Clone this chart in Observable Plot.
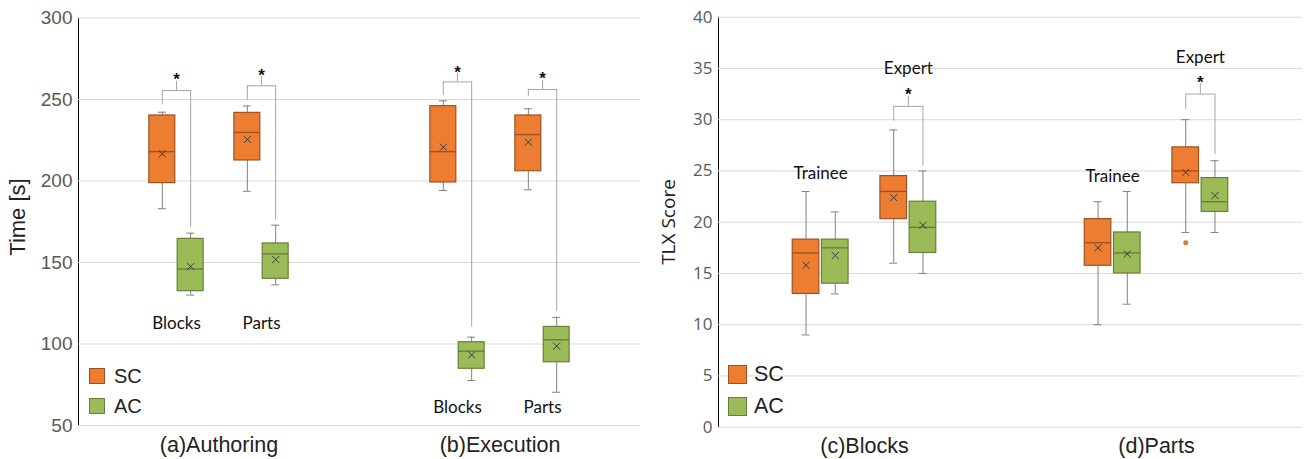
<!DOCTYPE html>
<html><head><meta charset="utf-8">
<script src="https://cdn.jsdelivr.net/npm/d3@7"></script>
<script src="https://cdn.jsdelivr.net/npm/@observablehq/plot@0.6"></script>
<style>
body{margin:0;background:#fff;}
#wrap{position:relative;width:1304px;height:459px;display:flex;overflow:hidden;}
.panel{position:relative;}
.panel svg{display:block;}
#left [aria-label^="y-axis"] text{font:19px "Liberation Sans",Arial,sans-serif;fill:#595959;}
#right [aria-label^="y-axis"] text{font:17px "Open Sans",sans-serif;fill:#595959;}
#left [aria-label^="fx-axis"] text{font:21.5px "Liberation Sans",Arial,sans-serif;fill:#222;}
#right [aria-label^="fx-axis"] text{font:21.5px "Liberation Sans",Arial,sans-serif;fill:#222;}
.panel .domain{stroke:#d9d9d9;}
.panel [aria-label="y-axis line"]{stroke:#d9d9d9;}
.ytitle{position:absolute;transform:translate(-50%,-50%) rotate(-90deg);white-space:nowrap;color:#222;}
.legend{position:absolute;color:#222;font-family:"Liberation Sans",Arial,sans-serif;}
.legend .row{display:flex;align-items:center;}
.legend .sw{box-sizing:border-box;border:1px solid #7a5a3a;}
</style></head><body>
<div id="wrap">
  <div id="left" class="panel"></div>
  <div id="right" class="panel"></div>
</div>
<script>
// ---------- Data: left chart (Time) ----------
const timeCategories = ["(a)Authoring", "(b)Execution"];
const timeGroups = ["Blocks", "Parts"];
const seriesNames = ["SC", "AC"];
const timeTicks = [50, 100, 150, 200, 250, 300];
// order: Authoring-Blocks-SC, -AC, Authoring-Parts-SC, -AC, Execution-Blocks-SC, -AC, Execution-Parts-SC, -AC
const timeMin    = [183.0, 130.0, 193.7, 136.3, 194.2, 77.6, 194.6, 70.4];
const timeQ1     = [198.7, 132.4, 212.6, 140.0, 199.1, 84.8, 206.0, 88.8];
const timeMedian = [218.0, 146.0, 229.8, 155.3, 218.0, 95.6, 228.5, 102.6];
const timeQ3     = [240.2, 164.5, 241.8, 161.7, 245.9, 101.1, 240.2, 110.5];
const timeMax    = [242.2, 168.0, 246.0, 172.9, 249.2, 104.2, 244.3, 116.3];
const timeMean   = [216.7, 147.5, 225.5, 151.8, 220.7, 93.3, 223.8, 98.7];
// significance brackets (per category-group): Authoring-Blocks, Authoring-Parts, Execution-Blocks, Execution-Parts
const timeBracketY   = [255.5, 258.4, 260.8, 256.1];
const timeBracketSC  = [246.7, 249.4, 252.5, 251.8];
const timeBracketAC  = [171.7, 176.0, 110.3, 120.0];
const timeBracketTop = [261.2, 264.1, 265.8, 261.7];
// group label heights per category
const timeGroupLabelY = [112.3, 61.3];

// ---------- Data: right chart (TLX) ----------
const tlxCategories = ["(c)Blocks", "(d)Parts"];
const tlxGroups = ["Trainee", "Expert"];
const tlxTicks = [0, 5, 10, 15, 20, 25, 30, 35, 40];
// order: Blocks-Trainee-SC, -AC, Blocks-Expert-SC, -AC, Parts-Trainee-SC, -AC, Parts-Expert-SC, -AC
const tlxMin    = [9, 13, 16, 15, 10, 12, 19, 19];
const tlxQ1     = [13, 14, 20.3, 17, 15.75, 15, 23.8, 21];
const tlxMedian = [17, 17.5, 23, 19.5, 18, 17, 25, 22];
const tlxQ3     = [18.3, 18.3, 24.5, 22, 20.3, 19, 27.3, 24.3];
const tlxMax    = [23, 21, 29, 25, 22, 23, 30, 26];
const tlxMean   = [15.8, 16.75, 22.4, 19.7, 17.5, 16.9, 24.85, 22.6];
const tlxOutlierCat = ["(d)Parts"];
const tlxOutlierGroup = ["Expert"];
const tlxOutlierSeries = ["SC"];
const tlxOutlierValue = [18];
// brackets (Expert only): Blocks, Parts
const tlxBracketCat = ["(c)Blocks", "(d)Parts"];
const tlxBracketY   = [31.3, 32.5];
const tlxBracketSC  = [29.85, 31.0];
const tlxBracketAC  = [25.5, 26.6];
const tlxBracketTop = [32.3, 33.5];
// group labels: Blocks-Trainee, Blocks-Expert, Parts-Trainee, Parts-Expert
const tlxGroupLabelY = [24.7, 35.0, 24.45, 36.1];

// ---------- Styles ----------
const fills   = {SC: "#ED7D31", AC: "#9BBB59"};
const strokes = {SC: "#9E5220", AC: "#687F3A"};
const whiskerColor = "#808080";
const bracketColor = "#a6a6a6";
const gridColor = "#d9d9d9";

function buildBoxes(cats, groups, mins, q1, med, q3, max, mean) {
  const out = []; let i = 0;
  for (const c of cats) for (const g of groups) for (const s of seriesNames) {
    out.push({cat: c, group: g, series: s, slot: g + "-" + s,
      min: mins[i], q1: q1[i], median: med[i], q3: q3[i], max: max[i], mean: mean[i]});
    i++;
  }
  return out;
}

function slotDomain(groups) {
  return [groups[0] + "-SC", groups[0] + "-AC", "gap", groups[1] + "-SC", groups[1] + "-AC"];
}

function makeChart({cats, groups, boxes, brackets, labels, outliers, ticks, yDomain, width, height, margins, pInner, pOuter, fxPad, labelFont}) {
  const [mt, mr, mb, ml] = margins;
  const facetW = (width - ml - mr) / cats.length;
  const step = facetW / (5 - pInner + 2 * pOuter);
  const half = step / 2;
  const bw = step * (1 - pInner);
  const capInset = (bw - 8) / 2;
  const marks = [
    Plot.ruleY(ticks, {stroke: gridColor})
  ];
  for (const s of seriesNames) {
    const b = boxes.filter(d => d.series === s);
    marks.push(
      Plot.ruleX(b, {x: "slot", fx: "cat", y1: "min", y2: "max", stroke: whiskerColor}),
      Plot.tickY(b, {x: "slot", fx: "cat", y: "min", stroke: whiskerColor, insetLeft: capInset, insetRight: capInset}),
      Plot.tickY(b, {x: "slot", fx: "cat", y: "max", stroke: whiskerColor, insetLeft: capInset, insetRight: capInset}),
      Plot.barY(b, {x: "slot", fx: "cat", y1: "q1", y2: "q3", fill: fills[s], stroke: strokes[s], strokeWidth: 1.2}),
      Plot.tickY(b, {x: "slot", fx: "cat", y: "median", stroke: strokes[s], strokeWidth: 1.4}),
      Plot.dot(b, {x: "slot", fx: "cat", y: "mean", symbol: "times", r: 3.3, stroke: "#3a3a3a", strokeWidth: 1})
    );
  }
  if (outliers.length) {
    marks.push(Plot.dot(outliers, {x: "slot", fx: "cat", y: "value", r: 2.2, fill: fills.SC, stroke: strokes.SC, strokeWidth: 0.5}));
  }
  marks.push(
    Plot.ruleX(brackets, {x: "slotSC", fx: "cat", y1: "scEnd", y2: "y", stroke: bracketColor}),
    Plot.ruleX(brackets, {x: "slotAC", fx: "cat", y1: "acEnd", y2: "y", stroke: bracketColor}),
    Plot.link(brackets, {x1: "slotSC", x2: "slotAC", fx: "cat", y1: "y", y2: "y", stroke: bracketColor}),
    Plot.ruleX(brackets, {x: "slotSC", dx: half, fx: "cat", y1: "y", y2: "top", stroke: bracketColor}),
    Plot.text(brackets, {x: "slotSC", dx: half, fx: "cat", y: "top", text: () => "*", lineAnchor: "bottom", dy: 4,
      fontSize: 17, fontWeight: "bold", fill: "#111", fontFamily: "Liberation Sans, Arial, sans-serif"}),
    Plot.text(labels, {x: "slotSC", dx: half, fx: "cat", y: "y", text: "label", lineAnchor: "middle",
      fontSize: 17, fill: "#111", fontFamily: labelFont})
  );
  return Plot.plot({
    width, height,
    marginTop: mt, marginRight: mr, marginBottom: mb, marginLeft: ml,
    style: {background: "#fff", overflow: "visible"},
    fx: {domain: cats, padding: 0, axis: "bottom", tickSize: 0, tickPadding: fxPad, label: null},
    x: {domain: slotDomain(groups), paddingInner: pInner, paddingOuter: pOuter, round: false, axis: null},
    y: {domain: yDomain, ticks: ticks, tickSize: 0, tickPadding: 6, label: null, line: true},
    marks
  });
}

// ---------- Left chart ----------
const timeBoxes = buildBoxes(timeCategories, timeGroups, timeMin, timeQ1, timeMedian, timeQ3, timeMax, timeMean);
const timeBrackets = [];
{ let i = 0;
  for (const c of timeCategories) for (const g of timeGroups) {
    timeBrackets.push({cat: c, slotSC: g + "-SC", slotAC: g + "-AC", y: timeBracketY[i], scEnd: timeBracketSC[i], acEnd: timeBracketAC[i], top: timeBracketTop[i]});
    i++;
  }
}
const timeLabels = [];
timeCategories.forEach((c, ci) => timeGroups.forEach(g => timeLabels.push({cat: c, slotSC: g + "-SC", y: timeGroupLabelY[ci], label: g})));

const left = makeChart({
  cats: timeCategories, groups: timeGroups, boxes: timeBoxes, brackets: timeBrackets, labels: timeLabels, outliers: [],
  ticks: timeTicks, yDomain: [50, 300], width: 650, height: 459, margins: [17.5, 10, 34, 77],
  pInner: 0.085, pOuter: 2.5, fxPad: 11, labelFont: "Lato, 'Open Sans', sans-serif"
});
document.getElementById("left").appendChild(left);

// ---------- Right chart ----------
const tlxBoxes = buildBoxes(tlxCategories, tlxGroups, tlxMin, tlxQ1, tlxMedian, tlxQ3, tlxMax, tlxMean);
const tlxBrackets = tlxBracketCat.map((c, i) => ({cat: c, slotSC: "Expert-SC", slotAC: "Expert-AC",
  y: tlxBracketY[i], scEnd: tlxBracketSC[i], acEnd: tlxBracketAC[i], top: tlxBracketTop[i]}));
const tlxLabels = [];
{ let i = 0;
  for (const c of tlxCategories) for (const g of tlxGroups) {
    tlxLabels.push({cat: c, slotSC: g + "-SC", y: tlxGroupLabelY[i], label: g}); i++;
  }
}
const tlxOutliers = tlxOutlierValue.map((v, i) => ({cat: tlxOutlierCat[i], slot: tlxOutlierGroup[i] + "-" + tlxOutlierSeries[i], value: v}));

const right = makeChart({
  cats: tlxCategories, groups: tlxGroups, boxes: tlxBoxes, brackets: tlxBrackets, labels: tlxLabels, outliers: tlxOutliers,
  ticks: tlxTicks, yDomain: [0, 40], width: 654, height: 459, margins: [16.7, 2, 32.3, 67],
  pInner: 0.09, pOuter: 2.54, fxPad: 11, labelFont: "Lato, 'Open Sans', sans-serif"
});
document.getElementById("right").appendChild(right);

// ---------- Axis titles & legends (HTML overlays) ----------
function addTitle(panel, text, x, y, font) {
  const d = document.createElement("div");
  d.className = "ytitle"; d.textContent = text;
  d.style.left = x + "px"; d.style.top = y + "px"; d.style.font = font;
  document.getElementById(panel).appendChild(d);
}
addTitle("left", "Time [s]", 18, 217, "22px 'Liberation Sans', Arial, sans-serif");
addTitle("right", "TLX Score", 18, 222, "19px 'Open Sans', sans-serif");

function addLegend(panel, x, y, sw, gap, fontSize, textGap) {
  const lg = document.createElement("div");
  lg.className = "legend"; lg.style.left = x + "px"; lg.style.top = y + "px"; lg.style.fontSize = fontSize + "px";
  seriesNames.forEach((s, i) => {
    const r = document.createElement("div"); r.className = "row";
    r.style.height = sw + "px"; r.style.marginBottom = (i === 0 ? gap : 0) + "px";
    const box = document.createElement("div"); box.className = "sw";
    box.style.width = sw + "px"; box.style.height = sw + "px"; box.style.background = fills[s];
    box.style.borderColor = strokes[s];
    const t = document.createElement("span"); t.textContent = s; t.style.marginLeft = textGap + "px";
    t.style.lineHeight = "1";
    r.appendChild(box); r.appendChild(t); lg.appendChild(r);
  });
  document.getElementById(panel).appendChild(lg);
}
addLegend("left", 89, 368, 16, 14, 20, 9);
addLegend("right", 728 - 650, 365, 19, 13, 21.5, 7);
</script>
</body></html>
